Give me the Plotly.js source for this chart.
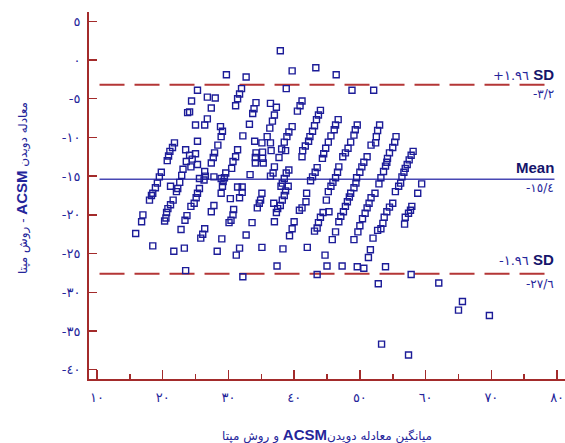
<!DOCTYPE html>
<html>
<head>
<meta charset="utf-8">
<script src="https://cdn.plot.ly/plotly-3.0.1.min.js"></script>
<style>html,body{margin:0;padding:0;background:#fff;}#chart{width:565px;height:443px;}</style>
</head>
<body>
<div id="chart"></div>
<script>
// Mean of ACSM running equation and measured method (x) and their difference (y)
const meanAvg = [37.9,39.7,43.3,46.4,29.7,32.7,25.3,32.0,38.8,48.8,52.1,26.8,28.0,31.7,31.4,24.4,24.1,23.8,25.0,27.4,26.8,26.4,28.8,29.1,28.9,25.3,31.1,32.2,33.2,34.2,33.9,33.7,34.0,36.4,37.3,37.0,36.7,36.3,35.9,39.7,39.2,38.9,38.5,38.1,38.7,37.7,41.2,40.9,40.5,35.1,36.4,36.5,35.2,34.2,34.1,35.2,34.1,35.3,
44.0,43.7,43.4,43.1,42.8,42.4,42.2,41.7,41.3,41.2,46.7,46.3,46.1,45.6,45.2,44.8,44.5,44.3,49.6,49.3,49.1,48.6,48.2,47.8,47.4,53.0,52.7,52.5,52.4,51.7,51.1,55.5,55.3,55.0,54.5,54.2,54.1,53.9,53.6,53.2,52.9,52.3,58.1,57.8,57.5,57.2,56.9,56.7,56.4,56.2,55.9,55.4,
21.8,21.5,21.1,20.9,20.7,19.8,19.5,19.2,18.9,18.5,18.3,18.0,17.0,16.8,15.9,23.5,24.1,25.0,24.5,23.6,24.3,23.1,22.9,22.6,22.3,21.2,22.1,21.6,21.2,20.8,20.6,20.5,20.3,25.6,25.3,25.1,24.8,26.4,26.5,26.3,25.6,27.8,27.4,25.3,29.6,29.4,29.2,29.1,28.9,28.9,30.5,33.3,31.4,32.1,32.1,30.3,31.7,24.3,23.7,23.4,22.8,27.8,27.4,30.8,30.7,30.4,30.1,26.4,26.1,25.8,29.0,32.7,33.6,18.5,21.7,23.3,28.3,31.7,31.2,35.1,38.3,23.5,32.2,37.4,
37.0,36.8,36.4,43.5,43.2,42.8,42.5,46.8,46.6,46.3,45.9,45.6,39.2,38.8,38.5,38.2,38.0,50.6,50.3,50.0,49.5,49.4,49.1,48.6,48.4,48.1,47.8,47.5,47.1,46.8,51.7,51.4,51.1,50.8,50.4,50.0,49.7,35.1,34.9,34.7,34.4,39.1,38.7,38.5,38.2,37.9,37.5,37.3,36.9,41.9,41.8,41.2,40.8,45.2,44.9,45.3,44.4,44.0,43.7,43.5,43.1,40.0,39.7,39.3,37.0,46.3,45.8,49.1,52.0,52.7,42.0,44.7,51.6,51.3,45.0,47.3,49.6,50.6,53.9,43.5,57.8,52.8,62.0,65.6,65.0,69.7,53.3,57.4,
59.4,58.8,55.0,54.5,54.1,53.7,53.5,53.2,57.9,57.7,57.4,56.9,56.8,28.4,27.9,27.7,31.4,31.1,30.7];
const diffVals = [1.2,-1.4,-1.0,-1.9,-1.9,-2.2,-3.9,-3.7,-3.7,-3.9,-3.9,-4.8,-4.9,-4.4,-5.0,-5.3,-6.7,-6.8,-8.4,-6.2,-7.6,-8.4,-8.6,-9.2,-9.9,-10.5,-5.9,-9.8,-8.3,-5.5,-6.3,-6.9,-10.5,-5.6,-6.1,-7.1,-7.9,-8.8,-9.9,-8.6,-9.3,-9.9,-10.6,-11.5,-11.7,-12.6,-5.3,-5.9,-6.6,-10.7,-10.7,-11.7,-11.9,-12.0,-12.6,-12.7,-13.3,-13.3,
-6.5,-7.1,-7.7,-8.5,-9.2,-9.9,-10.5,-11.1,-11.7,-12.5,-7.7,-8.4,-9.0,-9.8,-10.6,-11.4,-12.1,-12.7,-8.4,-9.0,-9.7,-10.6,-11.4,-12.0,-12.5,-8.4,-9.1,-9.9,-10.7,-11.0,-12.5,-9.9,-10.6,-11.3,-12.0,-12.7,-13.2,-13.7,-14.4,-15.2,-16.0,-17.2,-11.8,-12.3,-12.9,-13.5,-14.0,-14.5,-15.1,-15.9,-16.3,-17.0,
-10.7,-11.3,-11.8,-12.4,-13.0,-14.5,-15.1,-15.9,-16.5,-17.2,-17.5,-18.1,-20.0,-20.9,-22.4,-11.6,-12.3,-12.1,-12.8,-13.1,-13.8,-14.1,-14.9,-15.8,-16.6,-16.3,-17.0,-18.1,-18.7,-19.2,-19.7,-20.4,-20.8,-16.6,-17.2,-17.8,-18.5,-14.4,-15.0,-15.5,-15.3,-15.1,-13.3,-13.5,-14.6,-15.2,-15.7,-16.3,-17.2,-15.3,-14.0,-14.8,-16.4,-16.4,-17.1,-17.9,-17.8,-18.9,-20.1,-20.7,-21.9,-18.8,-19.6,-19.3,-20.0,-20.7,-21.0,-21.8,-22.5,-23.0,-23.1,-22.6,-21.0,-24.0,-24.7,-24.3,-24.7,-24.3,-25.2,-24.2,-24.4,-27.2,-28.0,-26.6,
-13.8,-14.6,-15.0,-13.9,-14.5,-15.1,-15.6,-13.8,-14.5,-15.2,-15.8,-16.3,-14.2,-14.6,-15.3,-15.9,-16.3,-13.2,-13.8,-14.5,-15.2,-15.9,-16.5,-17.2,-17.7,-18.3,-18.9,-19.6,-20.2,-20.9,-17.8,-18.5,-19.1,-19.8,-20.5,-21.4,-22.2,-17.2,-18.1,-18.5,-19.1,-16.3,-16.9,-17.5,-18.1,-18.8,-19.2,-19.7,-18.5,-17.2,-18.3,-19.1,-19.4,-17.0,-18.1,-19.6,-19.7,-20.3,-21.0,-21.7,-22.1,-20.9,-21.8,-22.7,-20.9,-22.2,-23.2,-23.2,-23.0,-22.0,-24.2,-25.2,-24.5,-25.5,-26.6,-26.6,-26.7,-26.9,-26.7,-27.7,-27.7,-28.9,-28.8,-31.2,-32.3,-33.0,-36.7,-38.1,
-16.0,-17.2,-18.5,-19.0,-19.6,-20.3,-21.1,-21.8,-18.9,-19.4,-19.8,-20.3,-21.2,-11.0,-12.0,-12.6,-11.6,-12.5,-13.1];

const meanDiff = -15.4;
const upperLoA = -3.2;
const lowerLoA = -27.6;

const xTickVals = [10,20,30,40,50,60,70,80];
const xTickText = ['١٠','٢٠','٣٠','٤٠','٥٠','٦٠','٧٠','٨٠'];
const xMinorVals = [15,25,35,45,55,65,75];
const yTickVals = [5,0,-5,-10,-15,-20,-25,-30,-35,-40];
const yTickText = ['٥','٠','-٥','-١٠','-١٥','-٢٠','-٢٥','-٣٠','-٣٥','-٤٠'];

const xTitle = '\u202Bمیانگین معادله دویدن<b style="font-family:Liberation Sans,Arial;font-size:15px">ACSM</b> و روش مپتا\u202C';
const yTitle = '\u202Bمعادله دویدن <b style="font-family:Liberation Sans,Arial;font-size:15px">ACSM</b> - روش مپتا\u202C';

const axisRed = '#a32b2b';
const navy = '#25259a';
const dark = '#15156b';
const fontFam = 'DejaVu Sans, Noto Sans, sans-serif';

const trace = {
  x: meanAvg, y: diffVals, type: 'scatter', mode: 'markers',
  marker: {symbol: 'square-open', size: 6, color: '#1c1c98', line: {width: 1.4, color: '#1c1c98'}},
  hoverinfo: 'skip', showlegend: false
};

const lineX0 = 10.4, lineX1 = 79.6;
const shapes = [
  {type:'line', xref:'x', yref:'y', x0:lineX0, x1:lineX1, y0:upperLoA, y1:upperLoA, layer:'below', line:{color:'#b43636', width:2, dash:'25px,10px'}},
  {type:'line', xref:'x', yref:'y', x0:lineX0, x1:lineX1, y0:lowerLoA, y1:lowerLoA, layer:'below', line:{color:'#b43636', width:2, dash:'25px,10px'}},
  {type:'line', xref:'x', yref:'y', x0:lineX0, x1:lineX1, y0:meanDiff, y1:meanDiff, layer:'below', line:{color:'#4848b4', width:1.5}}
];

const annX = 79.9;
const annotations = [
  {x: annX, y: -1.9, xref:'x', yref:'y', xanchor:'right', yanchor:'middle', showarrow:false,
   text: '+١.٩٦ <b style="font-family:Liberation Sans,Arial;font-size:15px;color:#15156b">SD</b>', font:{family:fontFam, size:13, color:navy}},
  {x: annX, y: -4.4, xref:'x', yref:'y', xanchor:'right', yanchor:'middle', showarrow:false,
   text: '-٣/٢', font:{family:fontFam, size:12, color:navy}},
  {x: annX, y: -13.9, xref:'x', yref:'y', xanchor:'right', yanchor:'middle', showarrow:false,
   text: '<b>Mean</b>', font:{family:'Liberation Sans, Arial', size:15, color:dark}},
  {x: annX, y: -16.5, xref:'x', yref:'y', xanchor:'right', yanchor:'middle', showarrow:false,
   text: '-١٥/٤', font:{family:fontFam, size:12, color:navy}},
  {x: annX, y: -25.8, xref:'x', yref:'y', xanchor:'right', yanchor:'middle', showarrow:false,
   text: '-١.٩٦ <b style="font-family:Liberation Sans,Arial;font-size:15px;color:#15156b">SD</b>', font:{family:fontFam, size:13, color:navy}},
  {x: annX, y: -28.9, xref:'x', yref:'y', xanchor:'right', yanchor:'middle', showarrow:false,
   text: '-٢٧/٦', font:{family:fontFam, size:12, color:navy}},
  {x: 0.5, y: -0.152, xref:'paper', yref:'paper', xanchor:'center', yanchor:'middle', showarrow:false,
   text: xTitle, font:{family:fontFam, size:12, color:navy}},
  {x: -0.141, y: 0.52, xref:'paper', yref:'paper', xanchor:'center', yanchor:'middle', showarrow:false, textangle:-90,
   text: yTitle, font:{family:fontFam, size:12, color:navy}}
];

const layout = {
  width: 565, height: 443,
  margin: {l: 89, r: 0, t: 12, b: 64},
  paper_bgcolor: '#ffffff', plot_bgcolor: '#ffffff',
  showlegend: false,
  xaxis: {
    range: [8.8, 81.2], showgrid: false, zeroline: false,
    showline: true, linecolor: axisRed, linewidth: 2,
    tickmode: 'array', tickvals: xTickVals, ticktext: xTickText,
    ticks: 'inside', ticklen: 9, tickwidth: 1.5, tickcolor: axisRed,
    minor: {tickmode: 'array', tickvals: xMinorVals, ticks: 'inside', ticklen: 5, tickwidth: 1.5, tickcolor: axisRed, showgrid: false},
    tickfont: {family: fontFam, size: 13, color: navy},
    ticklabelstandoff: 5, ticklabeloverflow: 'allow'
  },
  yaxis: {
    range: [-41.2, 6.2], showgrid: false, zeroline: false,
    showline: true, linecolor: axisRed, linewidth: 2,
    tickmode: 'array', tickvals: yTickVals, ticktext: yTickText,
    ticks: 'inside', ticklen: 8, tickwidth: 1.5, tickcolor: axisRed,
    tickfont: {family: fontFam, size: 13, color: navy},
    ticklabelstandoff: 4
  },
  shapes: shapes,
  annotations: annotations
};

Plotly.newPlot('chart', [trace], layout, {staticPlot: true, displayModeBar: false});
</script>
</body>
</html>
